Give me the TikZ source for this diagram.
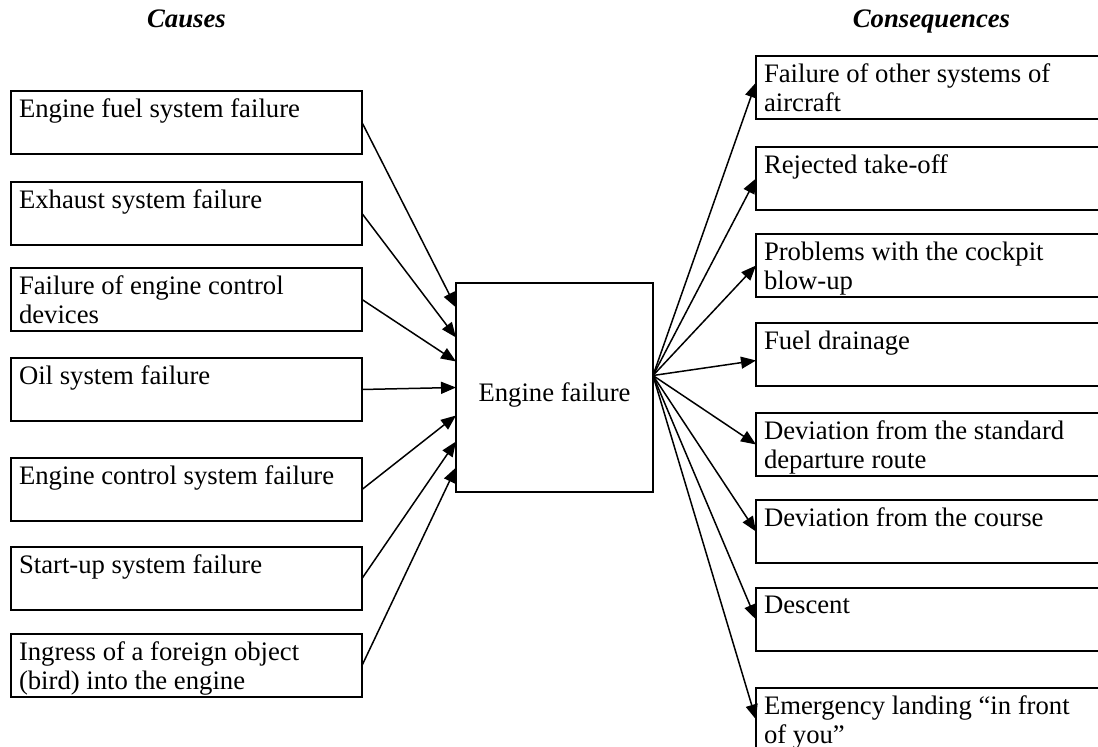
\documentclass[tikz,border=0pt]{standalone}
\usepackage{fontspec}
\setmainfont{Liberation Serif}
\usetikzlibrary{arrows.meta,positioning}
\newcommand{\boxtxt}[1]{\parbox[t][23.5pt][t]{167.5pt}{\raggedright #1}}
\tikzset{
  cause/.style={draw,line width=0.7pt,inner sep=4pt,outer sep=0pt,anchor=north},
  effect/.style={draw,line width=0.7pt,inner sep=4pt,outer sep=0pt,anchor=north},
  hub/.style={draw,line width=0.7pt,outer sep=0pt,minimum width=98.5pt,minimum height=104.5pt,text height=14.5pt,text depth=0pt},
  title/.style={font=\fontsize{13.35}{15}\selectfont\bfseries\itshape,anchor=base},
  arr/.style={-{Triangle[length=7.5pt,width=6pt]},line width=0.75pt}
}
\begin{document}
\begin{tikzpicture}[x=0.5pt,y=-0.5pt,every node/.append style={font=\fontsize{13.35}{14.6}\selectfont}]
  \clip (0,0) rectangle (1098,747);
  \node[title] (causes) at (186.5,28) {Causes};
  \node[title] (cons) at (931.5,28) {Consequences};
  % causes
  \node[cause,anchor=north west] (c1) at (11,91) {\boxtxt{Engine fuel system failure}};
  \node[cause,below=14pt of c1] (c2) {\boxtxt{Exhaust system failure}};
  \node[cause,below=11.5pt of c2] (c3) {\boxtxt{Failure of engine control\\devices}};
  \node[cause,below=13.5pt of c3] (c4) {\boxtxt{Oil system failure}};
  \node[cause,below=18.5pt of c4] (c5) {\boxtxt{Engine control system failure}};
  \node[cause,below=13pt of c5] (c6) {\boxtxt{Start-up system failure}};
  \node[cause,below=12pt of c6] (c7) {\boxtxt{Ingress of a foreign object\\(bird) into the engine}};
  % center
  \node[hub] (eng) at (554.5,387.5) {Engine failure};
  % consequences
  \node[effect,anchor=north west] (q1) at (756,56) {\boxtxt{Failure of other systems of\\aircraft}};
  \node[effect,below=14pt of q1] (q2) {\boxtxt{Rejected take-off}};
  \node[effect,below=12pt of q2] (q3) {\boxtxt{Problems with the cockpit\\blow-up}};
  \node[effect,below=13pt of q3] (q4) {\boxtxt{Fuel drainage}};
  \node[effect,below=13.5pt of q4] (q5) {\boxtxt{Deviation from the standard\\departure route}};
  \node[effect,below=12pt of q5] (q6) {\boxtxt{Deviation from the course}};
  \node[effect,below=12.5pt of q6] (q7) {\boxtxt{Descent}};
  \node[effect,below=18.5pt of q7] (q8) {\boxtxt{Emergency landing “in front\\of you”}};
  % arrows in
  \draw[arr] (c1.east) -- ([yshift=40pt]eng.west);
  \draw[arr] (c2.east) -- ([yshift=25pt]eng.west);
  \draw[arr] (c3.east) -- ([yshift=13pt]eng.west);
  \draw[arr] (c4.east) -- (eng.west);
  \draw[arr] (c5.east) -- ([yshift=-14pt]eng.west);
  \draw[arr] (c6.east) -- ([yshift=-27pt]eng.west);
  \draw[arr] (c7.east) -- ([yshift=-40pt]eng.west);
  % arrows out
  \draw[arr] ([yshift=6pt]eng.east) -- ([yshift=2.5pt]q1.west);
  \draw[arr] ([yshift=6pt]eng.east) -- (q2.west);
  \draw[arr] ([yshift=6pt]eng.east) -- (q3.west);
  \draw[arr] ([yshift=6pt]eng.east) -- ([yshift=-3pt]q4.west);
  \draw[arr] ([yshift=6pt]eng.east) -- (q5.west);
  \draw[arr] ([yshift=6pt]eng.east) -- (q6.west);
  \draw[arr] ([yshift=6pt]eng.east) -- (q7.west);
  \draw[arr] ([yshift=6pt]eng.east) -- (q8.west);
\end{tikzpicture}
\end{document}
